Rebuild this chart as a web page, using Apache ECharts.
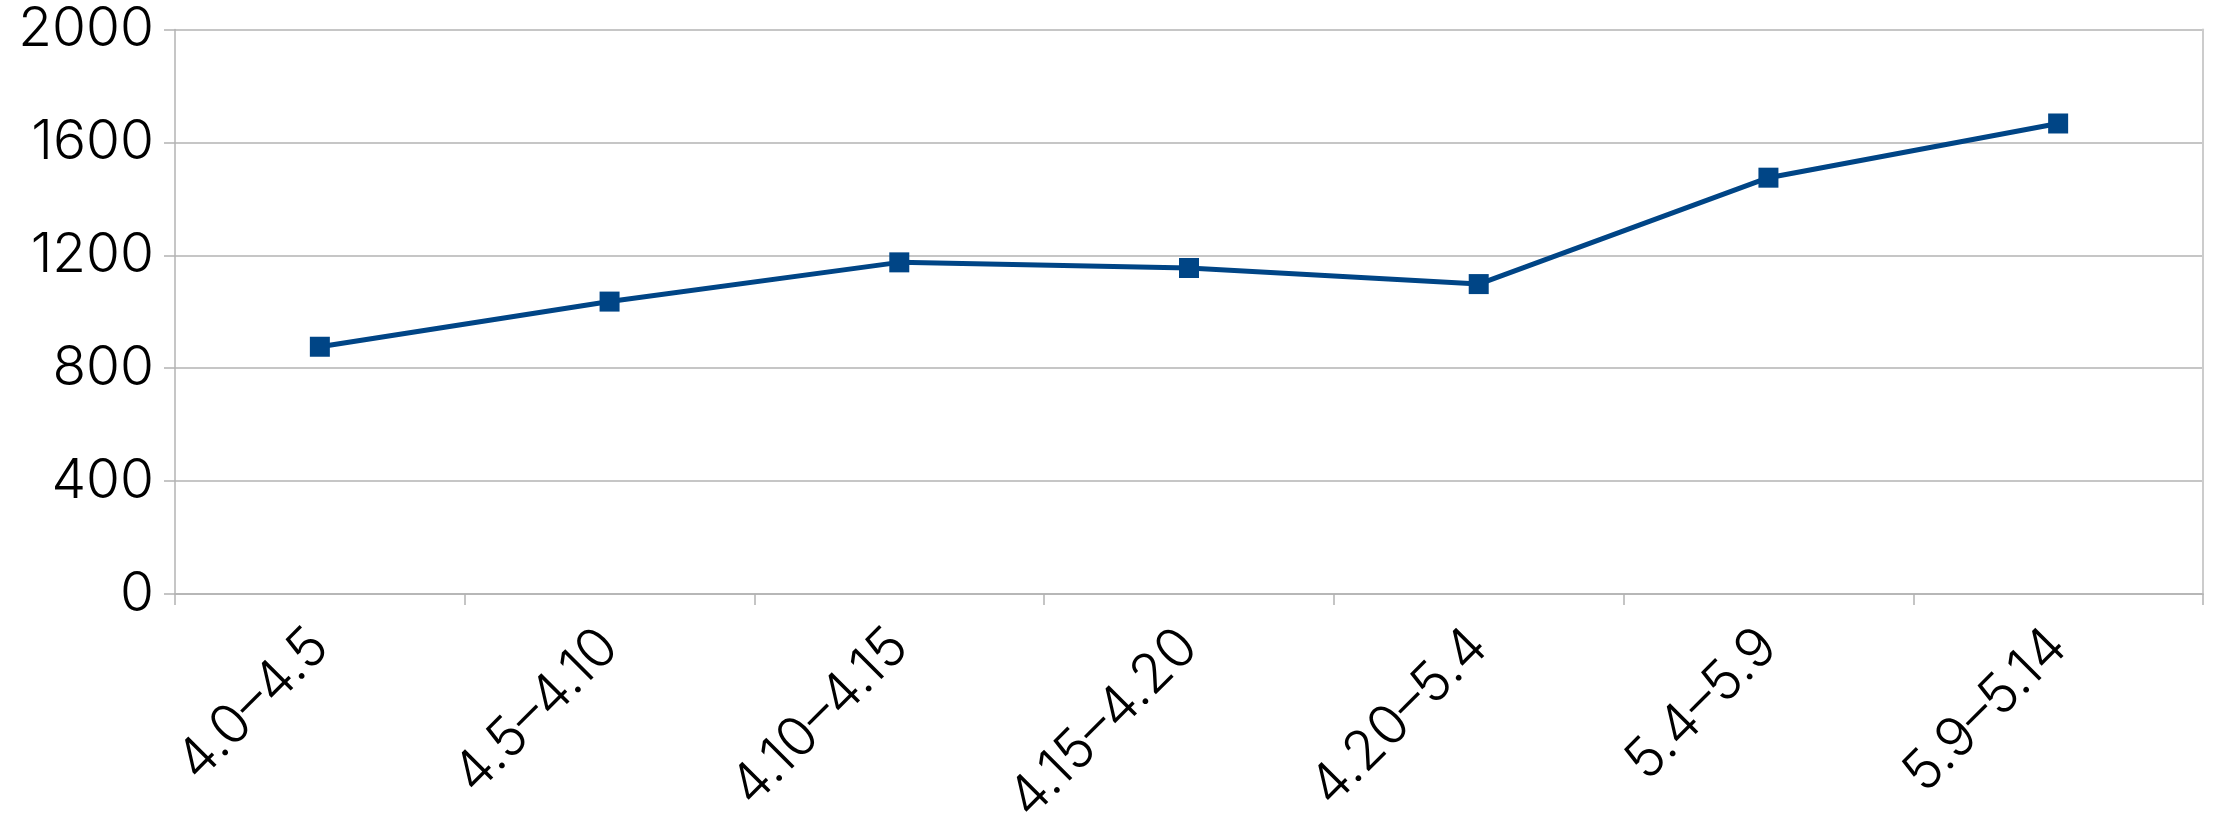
<!DOCTYPE html>
<html>
<head>
<meta charset="utf-8">
<title>Line chart</title>
<script src="https://cdn.jsdelivr.net/npm/echarts@6/dist/echarts.min.js"></script>
<style>
  html, body { margin: 0; padding: 0; background: #ffffff; }
  #chart { width: 2213px; height: 813px; }
</style>
</head>
<body>
<div id="chart"></div>
<script>
// Periods (month.day ranges) on the category axis
const categories = ['4.0–4.5', '4.5–4.10', '4.10–4.15', '4.15–4.20', '4.20–5.4', '5.4–5.9', '5.9–5.14'];
// Value for each period
const values = [876, 1036, 1175, 1155, 1098, 1475, 1667];
// Value axis range and step
const yMin = 0;
const yMax = 2000;
const yStep = 400;

const FONT = 'Inter';
const FONT_WEIGHT = 350;
const FONT_SIZE = 55;
const GRID_COLOR = '#b3b3b3';
const LINE_COLOR = '#004586';

const chart = echarts.init(document.getElementById('chart'), null, { renderer: 'canvas' });

chart.setOption({
  animation: false,
  backgroundColor: '#ffffff',
  grid: {
    left: 175, right: 10, top: 29.5, bottom: 219,
    containLabel: false,
    outerBoundsMode: 'none'
  },
  xAxis: {
    type: 'category',
    data: categories,
    boundaryGap: true,
    axisLine: { show: true, lineStyle: { color: GRID_COLOR, width: 1.5 } },
    axisTick: { show: true, alignWithLabel: false, length: 11, lineStyle: { color: GRID_COLOR, width: 1.5 } },
    axisLabel: {
      rotate: 45,
      margin: 44,
      fontFamily: FONT,
      fontWeight: FONT_WEIGHT,
      fontSize: FONT_SIZE,
      color: '#000000',
      interval: 0
    },
    splitLine: { show: false }
  },
  yAxis: [
    {
      type: 'value',
      min: yMin,
      max: yMax,
      interval: yStep,
      axisLine: { show: true, lineStyle: { color: GRID_COLOR, width: 1.5 } },
      axisTick: { show: true, length: 11, lineStyle: { color: GRID_COLOR, width: 1.5 } },
      axisLabel: {
        margin: 21,
        fontFamily: FONT,
        fontWeight: FONT_WEIGHT,
        fontSize: FONT_SIZE,
        color: '#000000',
        formatter: (v) => String(v)
      },
      splitLine: { show: true, lineStyle: { color: GRID_COLOR, width: 1.5 } }
    },
    {
      // right-hand frame edge of the plot area
      type: 'value',
      position: 'right',
      min: yMin,
      max: yMax,
      interval: yStep,
      axisLine: { show: true, lineStyle: { color: '#cccccc', width: 2 } },
      axisTick: { show: false },
      axisLabel: { show: false },
      splitLine: { show: false }
    }
  ],
  series: [
    {
      type: 'line',
      data: values,
      yAxisIndex: 0,
      symbol: 'rect',
      symbolSize: 20,
      showSymbol: true,
      lineStyle: { color: LINE_COLOR, width: 5 },
      itemStyle: { color: LINE_COLOR },
      emphasis: { disabled: true }
    }
  ]
});
</script>
</body>
</html>
